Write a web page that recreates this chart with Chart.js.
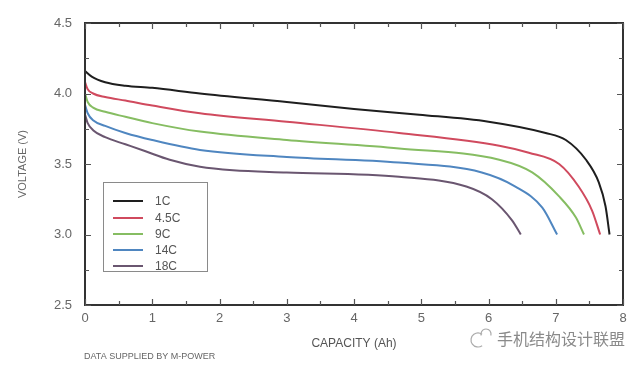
<!DOCTYPE html>
<html>
<head>
<meta charset="utf-8">
<script src="https://cdn.jsdelivr.net/npm/chart.js@4"></script>
<style>
html,body{margin:0;padding:0;background:#fff;}
#wrap{position:relative;width:640px;height:367px;}
</style>
</head>
<body>
<div id="wrap"><canvas id="c" width="640" height="367"></canvas></div>
<script>
const seriesLabels = ['1C', '4.5C', '9C', '14C', '18C'];
const seriesColors = ['#1e1e1e', '#d04a5e', '#86bd62', '#4f86c0', '#6a5670'];

const cap1C   = [0, 0.1, 0.3, 0.6, 1.0, 1.71, 3.0, 4.0, 4.97, 6.0, 6.85, 7.15, 7.45, 7.64, 7.74, 7.8];
const volt1C  = [4.16, 4.12, 4.08, 4.055, 4.04, 4.00, 3.94, 3.89, 3.85, 3.80, 3.72, 3.67, 3.53, 3.37, 3.20, 3.00];

const cap45C  = [0, 0.04, 0.12, 0.3, 0.6, 1.0, 1.71, 3.0, 4.67, 6.16, 6.6, 7.05, 7.34, 7.54, 7.66];
const volt45C = [4.08, 4.03, 4.00, 3.975, 3.95, 3.915, 3.86, 3.80, 3.72, 3.63, 3.58, 3.50, 3.34, 3.17, 3.00];

const cap9C   = [0, 0.04, 0.12, 0.3, 0.6, 1.0, 1.71, 3.0, 4.67, 6.16, 6.65, 7.05, 7.3, 7.42];
const volt9C  = [4.00, 3.94, 3.90, 3.87, 3.835, 3.79, 3.73, 3.67, 3.61, 3.53, 3.44, 3.27, 3.12, 3.00];

const cap14C  = [0, 0.04, 0.12, 0.3, 0.6, 1.0, 1.71, 3.0, 4.67, 5.9, 6.4, 6.8, 7.02];
const volt14C = [3.92, 3.86, 3.81, 3.77, 3.72, 3.67, 3.60, 3.55, 3.51, 3.44, 3.34, 3.19, 3.00];

const cap18C  = [0, 0.04, 0.12, 0.3, 0.6, 0.9, 1.26, 1.71, 2.2, 3.0, 4.67, 5.67, 6.05, 6.35, 6.48];
const volt18C = [3.85, 3.79, 3.74, 3.69, 3.64, 3.59, 3.53, 3.48, 3.455, 3.44, 3.41, 3.34, 3.25, 3.10, 3.00];

const xTicks = [0, 1, 2, 3, 4, 5, 6, 7, 8];
const yTicks = [2.5, 3.0, 3.5, 4.0, 4.5];

const capSets = [cap1C, cap45C, cap9C, cap14C, cap18C];
const voltSets = [volt1C, volt45C, volt9C, volt14C, volt18C];

const datasets = seriesLabels.map((lab, i) => ({
  label: lab,
  data: capSets[i].map((x, j) => ({x: x, y: voltSets[i][j]})),
  borderColor: seriesColors[i],
  borderWidth: 2,
  pointRadius: 0,
  fill: false,
  cubicInterpolationMode: 'monotone'
}));

const frameTicks = {
  id: 'frameTicks',
  afterDraw(chart) {
    const ctx = chart.ctx;
    const a = chart.chartArea;
    const xs = chart.scales.x, ys = chart.scales.y;
    ctx.save();
    ctx.strokeStyle = '#333';
    ctx.lineWidth = 2;
    ctx.strokeRect(a.left, a.top, a.right - a.left, a.bottom - a.top);
    ctx.lineWidth = 1.2;
    ctx.strokeStyle = '#555';
    for (let v = 0; v <= 8.001; v += 0.5) {
      const px = Math.round(xs.getPixelForValue(v)) + 0.5;
      const len = (Math.abs(v - Math.round(v)) < 1e-6) ? 6 : 4;
      ctx.beginPath();
      ctx.moveTo(px, a.top); ctx.lineTo(px, a.top + len);
      ctx.moveTo(px, a.bottom); ctx.lineTo(px, a.bottom - len);
      ctx.stroke();
    }
    for (let v = 2.5; v <= 4.501; v += 0.25) {
      const py = Math.round(ys.getPixelForValue(v)) + 0.5;
      const len = (Math.abs(v * 2 - Math.round(v * 2)) < 1e-6) ? 6 : 4;
      ctx.beginPath();
      ctx.moveTo(a.left, py); ctx.lineTo(a.left + len, py);
      ctx.moveTo(a.right, py); ctx.lineTo(a.right - len, py);
      ctx.stroke();
    }
    // legend box
    ctx.strokeStyle = '#8a8a8a';
    ctx.lineWidth = 1;
    ctx.strokeRect(103.5, 182.5, 104, 89);
    const rowsY = [201, 218, 234, 250, 266];
    ctx.font = '12px "Liberation Sans", Arial, sans-serif';
    ctx.textBaseline = 'middle';
    ctx.textAlign = 'left';
    seriesLabels.forEach((lab, i) => {
      ctx.strokeStyle = seriesColors[i];
      ctx.lineWidth = 2;
      ctx.beginPath();
      ctx.moveTo(113, rowsY[i]); ctx.lineTo(143, rowsY[i]);
      ctx.stroke();
      ctx.fillStyle = '#555';
      ctx.fillText(lab, 155, rowsY[i] + 1);
    });
    // source note
    ctx.font = '9px "Liberation Sans", Arial, sans-serif';
    ctx.fillStyle = '#666';
    ctx.fillText('DATA SUPPLIED BY M-POWER', 84, 357);
    // watermark
    ctx.font = '16px "Noto Sans CJK SC", sans-serif';
    ctx.fillStyle = '#8a8a8a';
    ctx.fillText('手机结构设计联盟', 497, 339);
    ctx.strokeStyle = '#aaa';
    ctx.lineWidth = 1.2;
    ctx.beginPath();
    ctx.arc(478, 340, 7, Math.PI * 0.3, Math.PI * 1.7);
    ctx.stroke();
    ctx.beginPath();
    ctx.arc(486, 334, 5, Math.PI * 0.9, Math.PI * 2.1);
    ctx.stroke();
    ctx.restore();
  }
};

new Chart(document.getElementById('c'), {
  type: 'line',
  data: { datasets: datasets },
  options: {
    responsive: false,
    animation: false,
    devicePixelRatio: 1,
    layout: { padding: { top: 23, right: 17, left: 16, bottom: 16 } },
    plugins: { legend: { display: false }, tooltip: { enabled: false } },
    scales: {
      x: {
        type: 'linear', min: 0, max: 8,
        afterBuildTicks(s) { s.ticks = xTicks.map(v => ({value: v})); },
        afterFit(s) { s.height = 46; },
        grid: { display: false, drawTicks: false },
        border: { display: false },
        ticks: { color: '#666', font: { size: 13, family: '"Liberation Sans", Arial, sans-serif' }, padding: 6, maxRotation: 0 },
        title: { display: true, text: 'CAPACITY (Ah)', color: '#555', font: { size: 12, family: '"Liberation Sans", Arial, sans-serif' }, padding: { top: 4, bottom: 0 } }
      },
      y: {
        type: 'linear', min: 2.5, max: 4.5,
        afterBuildTicks(s) { s.ticks = yTicks.map(v => ({value: v})); },
        afterFit(s) { s.width = 69; },
        grid: { display: false, drawTicks: false },
        border: { display: false },
        ticks: { color: '#666', font: { size: 13, family: '"Liberation Sans", Arial, sans-serif' }, padding: 13, callback: v => Number(v).toFixed(1) },
        title: { display: true, text: 'VOLTAGE (V)', color: '#666', font: { size: 11, family: '"Liberation Sans Narrow", "Liberation Sans", Arial, sans-serif' }, padding: { top: 0, bottom: 8 } }
      }
    }
  },
  plugins: [frameTicks]
});
</script>
</body>
</html>
